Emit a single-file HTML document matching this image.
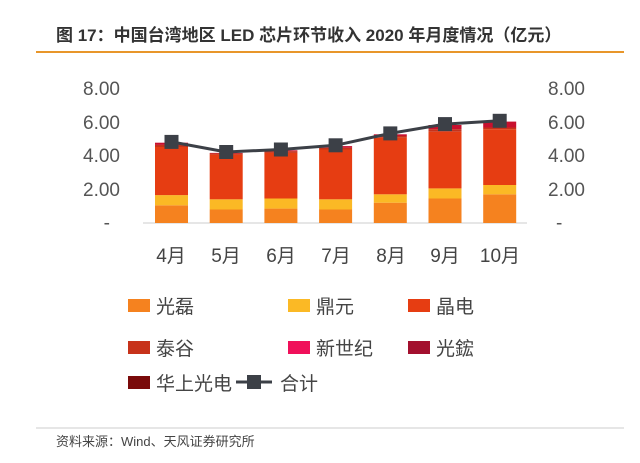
<!DOCTYPE html>
<html><head><meta charset="utf-8"><style>
body{margin:0;width:640px;height:458px;background:#fff;overflow:hidden;font-family:"Liberation Sans","Noto Sans CJK SC",sans-serif;}
</style></head><body>
<svg width="640" height="458" xmlns="http://www.w3.org/2000/svg" font-family="Liberation Sans, Noto Sans CJK SC, sans-serif">
<text x="56" y="41" font-size="17" font-weight="bold" fill="#333">图 17：中国台湾地区 LED 芯片环节收入 2020 年月度情况（亿元）</text>
<line x1="36" y1="52" x2="624" y2="52" stroke="#e8962a" stroke-width="2"/>
<g font-size="19" fill="#555" text-anchor="end">
<text x="120" y="95">8.00</text><text x="120" y="129">6.00</text><text x="120" y="162">4.00</text><text x="120" y="196">2.00</text><text x="110" y="229">-</text>
</g>
<g font-size="19" fill="#555" text-anchor="start">
<text x="548" y="95">8.00</text><text x="548" y="129">6.00</text><text x="548" y="162">4.00</text><text x="548" y="196">2.00</text><text x="556" y="229">-</text>
</g>
<line x1="143" y1="223" x2="527" y2="223" stroke="#ccc"/>
<g>
<rect x="155" y="205.3" width="33" height="17.7" fill="#f5821f"/><rect x="155" y="195.1" width="33" height="10.2" fill="#fbb925"/><rect x="155" y="147" width="33" height="48.1" fill="#e63d12"/><rect x="155" y="144.9" width="33" height="2.1" fill="#c7321a"/><rect x="155" y="142.7" width="33" height="2.2" fill="#c8102e"/>
<rect x="209.7" y="209.5" width="33" height="13.5" fill="#f5821f"/><rect x="209.7" y="199.3" width="33" height="10.2" fill="#fbb925"/><rect x="209.7" y="154.6" width="33" height="44.7" fill="#e63d12"/><rect x="209.7" y="153.4" width="33" height="1.2" fill="#c7321a"/><rect x="209.7" y="152.9" width="33" height="0.5" fill="#c8102e"/>
<rect x="264.4" y="208.6" width="33" height="14.4" fill="#f5821f"/><rect x="264.4" y="198.5" width="33" height="10.1" fill="#fbb925"/><rect x="264.4" y="152.9" width="33" height="45.6" fill="#e63d12"/><rect x="264.4" y="151.2" width="33" height="1.7" fill="#c7321a"/><rect x="264.4" y="150.3" width="33" height="0.9" fill="#c8102e"/>
<rect x="319.1" y="209.5" width="33" height="13.5" fill="#f5821f"/><rect x="319.1" y="199.3" width="33" height="10.2" fill="#fbb925"/><rect x="319.1" y="149.5" width="33" height="49.8" fill="#e63d12"/><rect x="319.1" y="147.8" width="33" height="1.7" fill="#c7321a"/><rect x="319.1" y="146.1" width="33" height="1.7" fill="#c8102e"/>
<rect x="373.8" y="202.7" width="33" height="20.3" fill="#f5821f"/><rect x="373.8" y="194.3" width="33" height="8.4" fill="#fbb925"/><rect x="373.8" y="137.7" width="33" height="56.6" fill="#e63d12"/><rect x="373.8" y="136" width="33" height="1.7" fill="#c7321a"/><rect x="373.8" y="134.3" width="33" height="1.7" fill="#c8102e"/>
<rect x="428.5" y="198.5" width="33" height="24.5" fill="#f5821f"/><rect x="428.5" y="188.4" width="33" height="10.1" fill="#fbb925"/><rect x="428.5" y="131.7" width="33" height="56.7" fill="#e63d12"/><rect x="428.5" y="129.2" width="33" height="2.5" fill="#c7321a"/><rect x="428.5" y="125" width="33" height="4.2" fill="#c8102e"/>
<rect x="483.2" y="194.3" width="33" height="28.7" fill="#f5821f"/><rect x="483.2" y="185" width="33" height="9.3" fill="#fbb925"/><rect x="483.2" y="129.2" width="33" height="55.8" fill="#e63d12"/><rect x="483.2" y="127.5" width="33" height="1.7" fill="#c7321a"/><rect x="483.2" y="121.6" width="33" height="5.9" fill="#c8102e"/>
</g>
<polyline points="171.5,141.9 226.2,152 280.9,149.5 335.6,145.3 390.3,133.4 445,124.1 499.7,120.8" fill="none" stroke="#3c4047" stroke-width="3"/>
<g fill="#3c4047">
<rect x="164.5" y="134.9" width="14" height="14"/><rect x="219.2" y="145" width="14" height="14"/><rect x="273.9" y="142.5" width="14" height="14"/><rect x="328.6" y="138.3" width="14" height="14"/><rect x="383.3" y="126.4" width="14" height="14"/><rect x="438" y="117.1" width="14" height="14"/><rect x="492.7" y="113.8" width="14" height="14"/>
</g>
<g font-size="19" fill="#444" text-anchor="middle">
<text x="171" y="262">4月</text><text x="226" y="262">5月</text><text x="281" y="262">6月</text><text x="336" y="262">7月</text><text x="391" y="262">8月</text><text x="445" y="262">9月</text><text x="500" y="262">10月</text>
</g>
<g font-size="19" fill="#444">
<rect x="128" y="299" width="22" height="13" fill="#f5821f"/><text x="156" y="313">光磊</text>
<rect x="288" y="299" width="22" height="13" fill="#fbb925"/><text x="316" y="313">鼎元</text>
<rect x="408" y="299" width="22" height="13" fill="#e63d12"/><text x="436" y="313">晶电</text>
<rect x="128" y="341" width="22" height="13" fill="#c7321a"/><text x="156" y="355">泰谷</text>
<rect x="288" y="341" width="22" height="13" fill="#f0105a"/><text x="316" y="355">新世纪</text>
<rect x="408" y="341" width="22" height="13" fill="#a3102e"/><text x="436" y="355">光鋐</text>
<rect x="128" y="376" width="22" height="13" fill="#7a0a0a"/><text x="156" y="390">华上光电</text>
<line x1="236" y1="382" x2="272" y2="382" stroke="#3c4047" stroke-width="3"/><rect x="247" y="375" width="14" height="14" fill="#3c4047"/><text x="280" y="390">合计</text>
</g>
<line x1="36" y1="428" x2="624" y2="428" stroke="#ccc"/>
<text x="56" y="446" font-size="13" fill="#444">资料来源：Wind、天风证券研究所</text>
</svg>
</body></html>
